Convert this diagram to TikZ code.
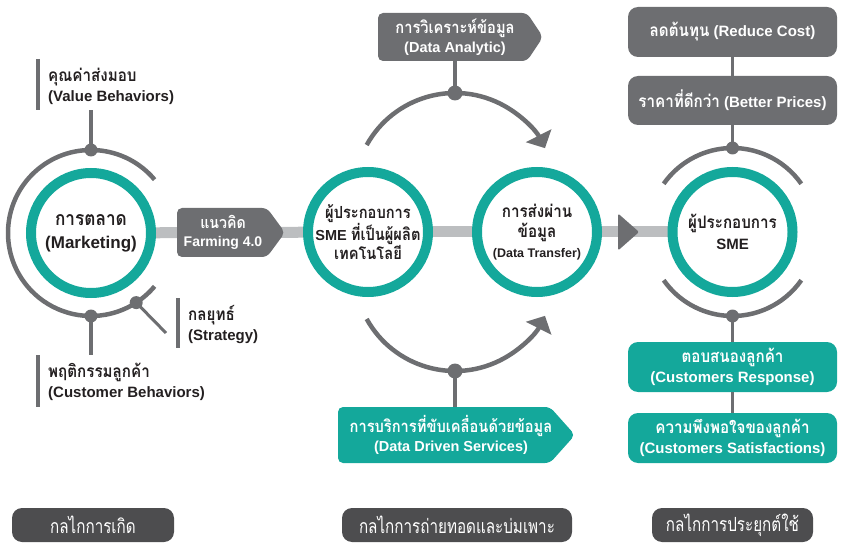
\documentclass[tikz,border=0pt]{standalone}
\usepackage{fontspec}
\setmainfont{Liberation Sans}
\newfontfamily\thaifont[Script=Thai,Scale=1.15,FakeStretch=0.88]{Loma}
\newfontfamily\thaicond[Script=Thai,FakeStretch=0.78]{Loma}
\usetikzlibrary{arrows.meta,backgrounds,calc}
\definecolor{tl}{HTML}{14A89B}
\definecolor{dg}{HTML}{6D6E71}
\definecolor{lg}{HTML}{BCBEC0}
\definecolor{bk}{HTML}{4D4D4F}
\definecolor{txt}{HTML}{231F20}
\newcommand{\tha}[1]{{\thaifont #1}}
\begin{document}
\begin{tikzpicture}[x=1pt,y=-1pt,
 ring/.style={circle,draw=tl,line width=10pt,fill=white,minimum size=120pt,inner sep=0pt},
 ctext/.style={align=center,text=txt,inner sep=0pt,font=\fontsize{14.5}{19}\selectfont\bfseries},
 garc/.style={draw=dg,line width=4.5pt},
 conn/.style={draw=dg,line width=3.5pt},
 bar/.style={draw=dg,line width=4pt},
 lbl/.style={anchor=west,align=left,text=txt,inner sep=0pt,font=\fontsize{15}{20}\selectfont\bfseries},
 band/.style={draw=lg,line width=11pt},
 tagt/.style={align=center,text=white,inner sep=0pt,font=\fontsize{14}{18}\selectfont\bfseries},
 rbox/.style={rounded corners=10pt,minimum width=209pt,minimum height=50pt,inner sep=0pt,align=center,text=white,font=\fontsize{15}{19.5}\selectfont\bfseries},
 gbox/.style={rbox,fill=dg},
 tbox/.style={rbox,fill=tl},
 mbox/.style={rounded corners=10pt,minimum height=34pt,inner sep=0pt,fill=bk,text=white,font=\thaicond\fontsize{19.5}{20}\selectfont},
 arr/.style={-{Triangle[width=28pt,length=14pt]}}
]
\useasboundingbox (0,0) rectangle (841,548);

% ---------- rings ----------
\node[ring] (mk) at (91,233) {};
\node[ring] (p1) at (368,232) {};
\node[ring] (dt) at (537,232) {};
\node[ring] (sme) at (732.5,232) {};

\node[ctext,font=\fontsize{17}{23}\selectfont\bfseries] (mkt) at (mk.center) {\tha{การตลาด}\\(Marketing)};
\node[ctext] (p1t) at (p1.center) {\tha{ผู้ประกอบการ}\\SME \tha{ที่เป็นผู้ผลิต}\\\tha{เทคโนโลยี}};
\node[ctext,font=\fontsize{15}{20}\selectfont\bfseries] (dtt) at (dt.center) {\tha{การส่งผ่าน}\\\tha{ข้อมูล}\\{\fontsize{12.5}{14}\selectfont(Data Transfer)}};
\node[ctext,font=\fontsize{15}{21}\selectfont\bfseries] (smet) at (sme.center) {\tha{ผู้ประกอบการ}\\SME};

% ---------- bands ----------
\begin{pgfonlayer}{background}
\draw[band] (mk) -- (p1);
\draw[band] (p1) -- (dt);
\draw[band] (dt) -- (sme);
\end{pgfonlayer}
\path (dt) -- (sme) coordinate[pos=0.566] (tri);
\fill[dg,rounded corners=2pt] (tri) -- ++(-21,-18.5) -- ++(0,37) -- cycle;

% ---------- left group ----------
\draw[garc] (mk.center) ++(-40:83) arc[start angle=-40,end angle=-320,radius=83];
\path (mk.center) ++(-90:83) coordinate (mkT);
\path (mk.center) ++(90:83) coordinate (mkB);
\path (mk.center) ++(57:83) coordinate (mkS);
\coordinate (vbE) at (91,110);
\coordinate (cbE) at (91,355);
\coordinate (stE) at (166,333);
\draw[conn] (mkT) -- (vbE);
\draw[conn] (mkB) -- (cbE);
\draw[conn,line width=3pt] (mkS) -- (stE);
\foreach \d in {mkT,mkB,mkS} \fill[dg] (\d) circle[radius=6.5];

\node[lbl] (vb) at (48,86) {\tha{คุณค่าส่งมอบ}\\(Value Behaviors)};
\draw[bar] (38,59) -- (38,110);
\node[lbl] (cb) at (48,382) {\tha{พฤติกรรมลูกค้า}\\(Customer Behaviors)};
\draw[bar] (38,355) -- (38,407);
\node[lbl] (st) at (188,325) {\tha{กลยุทธ์}\\(Strategy)};
\draw[bar] (178,298) -- (178,348);

% Farming tag
\fill[dg,rounded corners=5pt] (177,208) -- (267,208) -- (285,232.5) -- (267,257) -- (177,257) -- cycle;
\node[tagt] (farm) at (223,232.5) {\tha{แนวคิด}\\Farming 4.0};

% ---------- middle group ----------
\coordinate (ta) at (455,194);
\coordinate (ba) at (455,270);
\draw[garc,arr] (ta) ++(-151:101) arc[start angle=-151,end angle=-27,radius=101];
\draw[garc,arr] (ba) ++(151:101) arc[start angle=151,end angle=27,radius=101];
\path (ta) ++(-90:101) coordinate (taD);
\path (ba) ++(90:101) coordinate (baD);

\fill[dg,rounded corners=5pt] (378,13) -- (527,13) -- (543,37) -- (527,61) -- (378,61) -- cycle;
\node[tagt,minimum height=48pt,font=\fontsize{14.5}{19}\selectfont\bfseries] (da) at (455,37) {\tha{การวิเคราะห์ข้อมูล}\\(Data Analytic)};
\fill[tl,rounded corners=5pt] (338,407) -- (550,407) -- (575,435) -- (550,463) -- (338,463) -- cycle;
\node[tagt,minimum height=56pt,font=\fontsize{14.5}{19}\selectfont\bfseries] (dds) at (451,435) {\tha{การบริการที่ขับเคลื่อนด้วยข้อมูล}\\(Data Driven Services)};

\draw[conn] (taD) -- (taD |- da.south);
\draw[conn] (baD) -- (baD |- dds.north);
\fill[dg] (taD) circle[radius=7.5];
\fill[dg] (baD) circle[radius=7.5];

% ---------- right group ----------
\draw[garc] (sme.center) ++(-35:84) arc[start angle=-35,end angle=-145,radius=84];
\draw[garc] (sme.center) ++(35:84) arc[start angle=35,end angle=145,radius=84];
\path (sme.center) ++(-90:84) coordinate (smT);
\path (sme.center) ++(90:84) coordinate (smB);

\node[gbox] (rc) at (732.5,32) {\tha{ลดต้นทุน} (Reduce Cost)};
\node[gbox,minimum height=49pt] (bp) at (732.5,100.5) {\tha{ราคาที่ดีกว่า} (Better Prices)};
\node[tbox] (cr) at (732.5,367) {\tha{ตอบสนองลูกค้า}\\(Customers Response)};
\node[tbox] (cs) at (732.5,438) {\tha{ความพึงพอใจของลูกค้า}\\(Customers Satisfactions)};

\draw[conn,line width=3pt] (rc) -- (bp);
\draw[conn,line width=3pt] (smT) -- (bp);
\draw[conn,line width=3pt] (smB) -- (cr);
\draw[conn,line width=3pt] (cr) -- (cs);
\fill[dg] (smT) circle[radius=6.5];
\fill[dg] (smB) circle[radius=6.5];

% ---------- bottom boxes ----------
\node[mbox,minimum width=162pt] (m1) at (93,525) {กลไกการเกิด};
\node[mbox,minimum width=230pt] (m2) at (457,525) {กลไกการถ่ายทอดและบ่มเพาะ};
\node[mbox,minimum width=161pt] (m3) at (732.5,525) {กลไกการประยุกต์ใช้};
\end{tikzpicture}
\end{document}
